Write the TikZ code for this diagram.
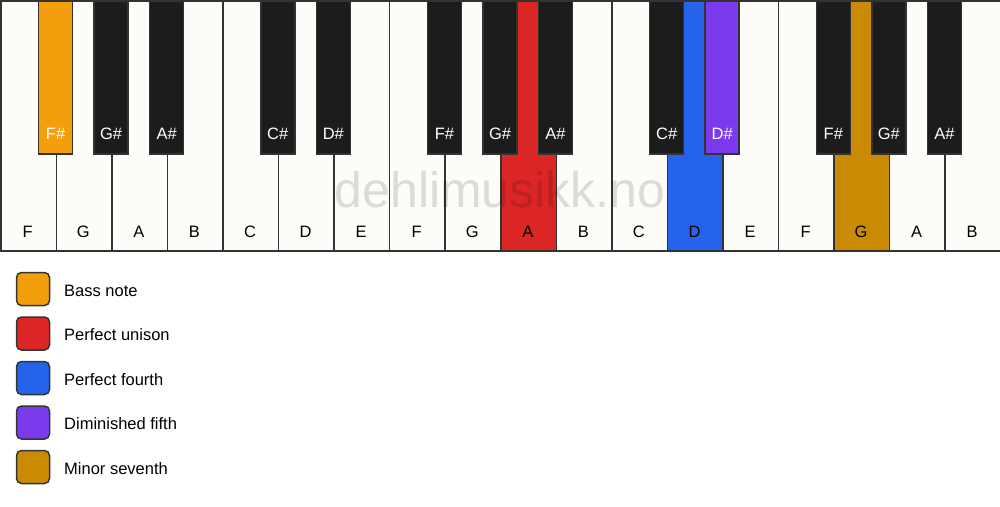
\documentclass[tikz,border=0pt]{standalone}
\usepackage{fontspec}
\setmainfont{Liberation Sans}

\definecolor{keywhite}{HTML}{FDFCF9}
\definecolor{keyblack}{HTML}{1C1C1C}
\definecolor{keyedge}{HTML}{333333}
\definecolor{bassnote}{HTML}{F59E0B}
\definecolor{unison}{HTML}{DC2626}
\definecolor{fourth}{HTML}{2563EB}
\definecolor{dimfifth}{HTML}{7C3AED}
\definecolor{minseventh}{HTML}{CA8A04}

\tikzset{
    whitekey/.style={draw=keyedge, line width=1.5pt, rectangle, anchor=north west,
        minimum width=55.556pt, minimum height=250pt, inner sep=0pt},
    blackkey/.style={draw=keyedge, line width=1.5pt, rectangle, anchor=north,
        minimum width=34pt, minimum height=153pt, inner sep=0pt},
    whitelabel/.style={anchor=base, inner sep=0pt, text=black,
        font=\fontsize{16.5}{20}\selectfont},
    blacklabel/.style={anchor=base, inner sep=0pt, text=white,
        font=\fontsize{16.5}{20}\selectfont},
    swatch/.style={draw=keyedge, line width=1.5pt, rounded corners=5pt,
        minimum width=33pt, minimum height=33pt, inner sep=0pt},
    legendtext/.style={anchor=base west, inner sep=0pt,
        font=\fontsize{16.5}{20}\selectfont},
    watermark/.style={anchor=base, inner sep=0pt, text=black, text opacity=0.13,
        font=\fontsize{50}{60}\selectfont}
}

\begin{document}
\begin{tikzpicture}[x=1pt, y=-1pt]
    \useasboundingbox[fill=white] (0,0) rectangle (1000,506);

    % White keys
    \foreach \n/\c [count=\i from 0] in {F/keywhite, G/keywhite, A/keywhite, B/keywhite,
        C/keywhite, D/keywhite, E/keywhite, F/keywhite, G/keywhite, A/unison, B/keywhite,
        C/keywhite, D/fourth, E/keywhite, F/keywhite, G/minseventh, A/keywhite, B/keywhite} {
        \node[whitekey, fill=\c] (w\i) at (\i*55.556, 0) {};
        \node[whitelabel] (wl\i) at (\i*55.556+27.778, 237) {\n};
    }

    % Watermark
    \node[watermark] (mark) at (500, 207) {dehlimusikk.no};

    % Black keys
    \foreach \p/\n/\c in {1/F\#/bassnote, 2/G\#/keyblack, 3/A\#/keyblack, 5/C\#/keyblack,
        6/D\#/keyblack, 8/F\#/keyblack, 9/G\#/keyblack, 10/A\#/keyblack, 12/C\#/keyblack,
        13/D\#/dimfifth, 15/F\#/keyblack, 16/G\#/keyblack, 17/A\#/keyblack} {
        \node[blackkey, fill=\c] (b\p) at (\p*55.556, 0) {};
        \node[blacklabel] (bl\p) at (\p*55.556, 139) {\n};
    }

    % Legend
    \foreach \c/\t [count=\i from 0] in {bassnote/Bass note, unison/Perfect unison,
        fourth/Perfect fourth, dimfifth/Diminished fifth, minseventh/Minor seventh} {
        \node[swatch, fill=\c] (s\i) at (33, 289+\i*44.5) {};
        \node[legendtext] (t\i) at (64, 296+\i*44.5) {\t};
    }
\end{tikzpicture}
\end{document}
